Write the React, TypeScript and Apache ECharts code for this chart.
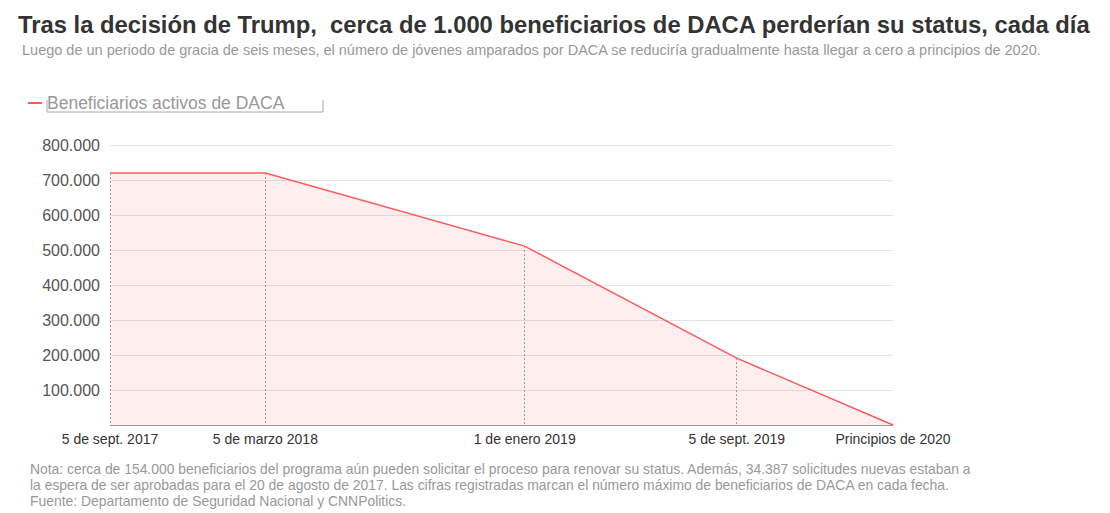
import React, { useEffect, useRef } from "react";
import * as echarts from "echarts";

const titleText = "Tras la decisión de Trump,  cerca de 1.000 beneficiarios de DACA perderían su status, cada día";
const subtitleText = "Luego de un periodo de gracia de seis meses, el número de jóvenes amparados por DACA se reduciría gradualmente hasta llegar a cero a principios de 2020.";
const seriesName = "Beneficiarios activos de DACA";
const dates = ["2017-09-05", "2018-03-05", "2019-01-01", "2019-09-05", "2020-03-05"];
const dateLabels = ["5 de sept. 2017", "5 de marzo 2018", "1 de enero 2019", "5 de sept. 2019", "Principios de 2020"];
const values = [720000, 720000, 511000, 191000, 0];
const yMax = 800000;
const yInterval = 100000;
const notes = [
  "Nota: cerca de 154.000 beneficiarios del programa aún pueden solicitar el proceso para renovar su status. Además, 34.387 solicitudes nuevas estaban a",
  "la espera de ser aprobadas para el 20 de agosto de 2017. Las cifras registradas marcan el número máximo de beneficiarios de DACA en cada fecha.",
  "Fuente: Departamento de Seguridad Nacional y CNNPolitics.",
];

const FONT = "'Liberation Sans', Arial, Helvetica, sans-serif";

export default function App() {
  const ref = useRef<HTMLDivElement>(null);
  useEffect(() => {
    if (!ref.current) return;
    const chart = echarts.init(ref.current, null, { renderer: "svg" });
    const DAY = 86400000;
    const t0 = new Date(dates[0] + "T00:00:00Z").getTime();
    const xs = dates.map((d) => Math.round((new Date(d + "T00:00:00Z").getTime() - t0) / DAY));
    const fmt = (v: number) => (v === 0 ? "" : String(v).replace(/\B(?=(\d{3})+(?!\d))/g, "."));
    chart.setOption({
      animation: false,
      textStyle: { fontFamily: FONT },
      title: [
        {
          text: titleText,
          left: 13,
          top: 7,
          textStyle: { fontSize: 23.8, fontWeight: "bold", color: "#333", fontFamily: FONT },
        },
        {
          text: subtitleText,
          left: 17,
          top: 37,
          textStyle: { fontSize: 14.5, fontWeight: "normal", color: "#999", fontFamily: FONT },
        },
      ],
      legend: {
        left: 23,
        top: 89,
        icon: "rect",
        itemWidth: 14,
        itemHeight: 2,
        itemGap: 10,
        textStyle: { fontSize: 17.5, color: "#999", fontFamily: FONT },
        data: [seriesName],
      },
      grid: { left: 110, right: 217, top: 145, bottom: 88, containLabel: false },
      xAxis: {
        type: "value",
        min: xs[0],
        max: xs[xs.length - 1],
        axisLine: { show: true, lineStyle: { color: "#999", width: 1 } },
        axisTick: { show: false },
        splitLine: { show: false },
        axisLabel: {
          customValues: xs,
          fontSize: 14,
          color: "#333",
          margin: 7,
          showMinLabel: true,
          showMaxLabel: true,
          hideOverlap: false,
          formatter: (v: number) => {
            const i = xs.indexOf(v);
            return i >= 0 ? dateLabels[i] : "";
          },
        },
      },
      yAxis: {
        type: "value",
        min: 0,
        max: yMax,
        interval: yInterval,
        axisLine: { show: false },
        axisTick: { show: false },
        splitLine: { show: true, lineStyle: { color: "#e4e4e4", width: 1 } },
        axisLabel: { fontSize: 16, color: "#555", margin: 10, formatter: fmt },
      },
      series: [
        {
          name: seriesName,
          type: "line",
          data: xs.map((x, i) => [x, values[i]]),
          showSymbol: false,
          symbol: "none",
          lineStyle: { color: "#ff5a5f", width: 1.5 },
          itemStyle: { color: "#ff5a5f" },
          areaStyle: { color: "rgba(255, 90, 95, 0.15)" },
          markLine: {
            silent: true,
            symbol: "none",
            label: { show: false },
            lineStyle: { color: "#999", type: [2, 2], width: 1 },
            data: xs
              .map((x, i) => ({ x, v: values[i] }))
              .filter((p) => p.v > 0)
              .map((p) => [{ coord: [p.x, p.v] }, { coord: [p.x, 0] }]),
          },
        },
      ],
      graphic: [
        {
          type: "polyline",
          shape: { points: [[47, 100], [47, 112], [323, 112], [323, 100]] },
          style: { stroke: "#aaa", fill: null, lineWidth: 1 },
        },
        ...notes.map((n, i) => ({
          type: "text",
          left: 30,
          top: 462 + i * 16,
          style: { text: n, fontSize: 13.9, fill: "#999", fontFamily: FONT },
        })),
      ],
    });
    return () => chart.dispose();
  }, []);
  return <div ref={ref} style={{ width: 1110, height: 513, position: "absolute", left: 0, top: 0 }} />;
}
